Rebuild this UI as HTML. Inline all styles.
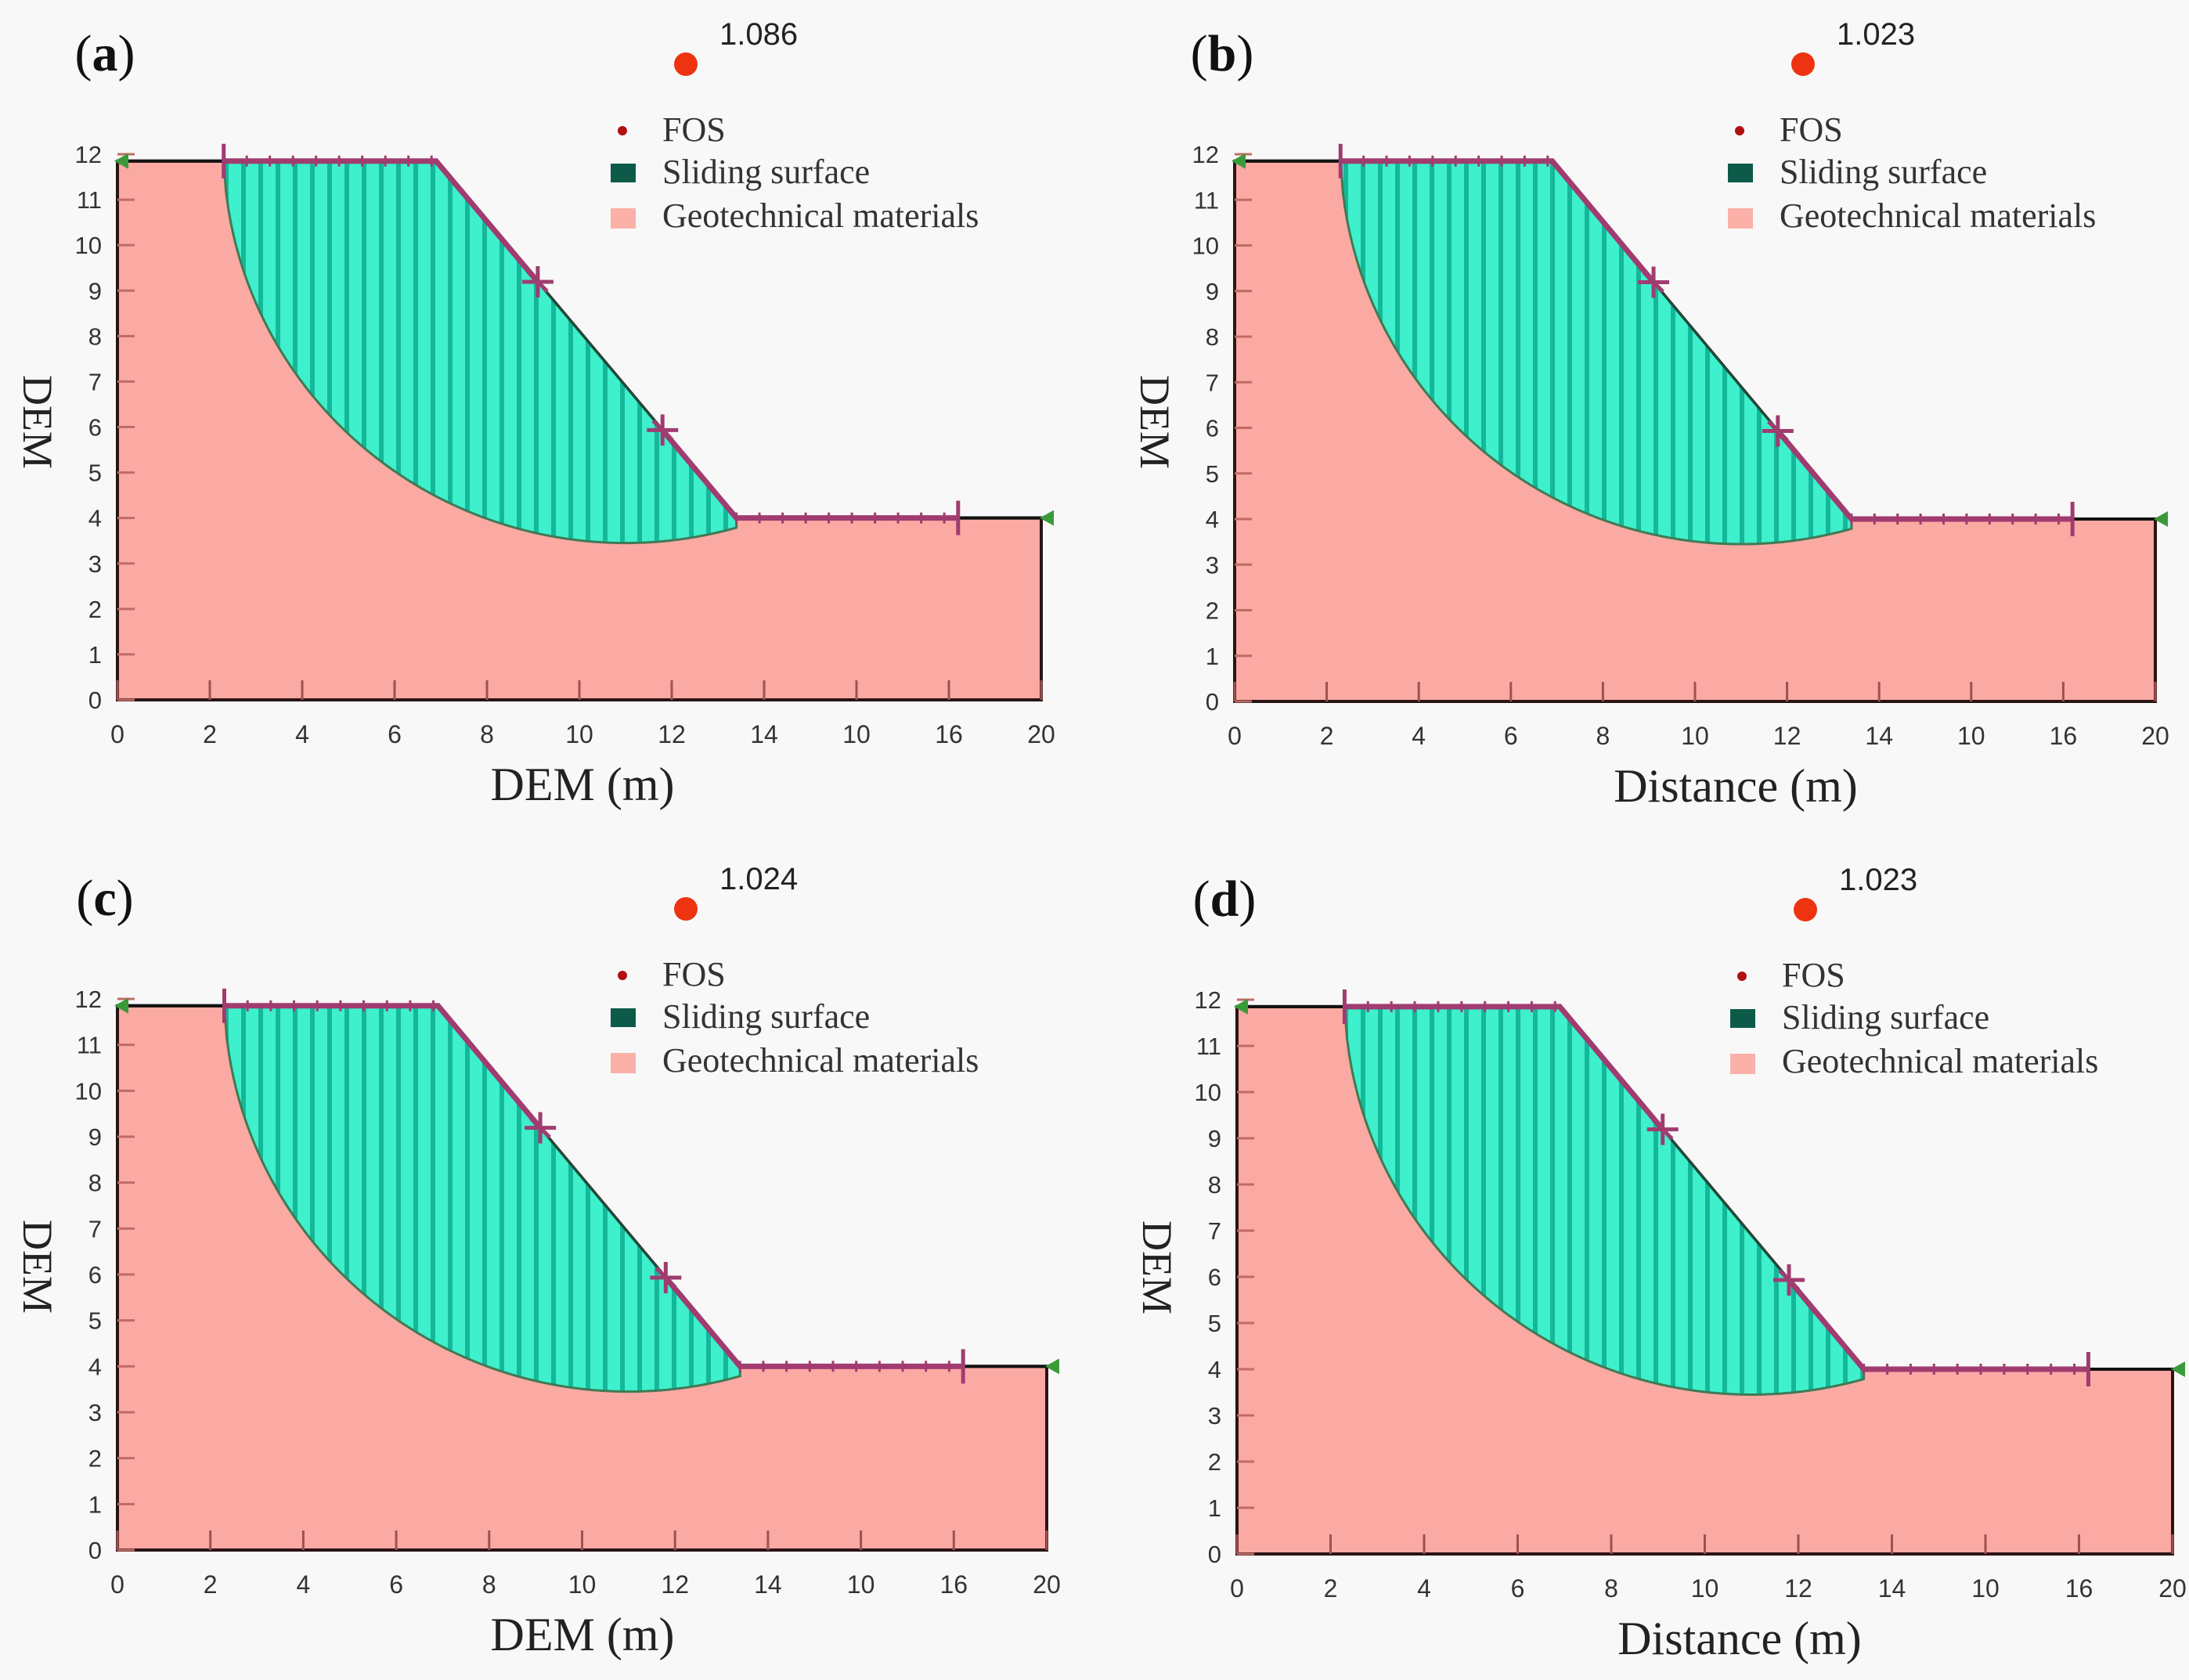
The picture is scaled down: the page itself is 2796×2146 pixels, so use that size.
<!DOCTYPE html>
<html><head><meta charset="utf-8"><style>
html,body{margin:0;padding:0;background:#f8f8f8;}
svg{display:block;}
</style></head><body>
<svg id="fig" width="2796" height="2146" viewBox="0 0 2796 2146" xmlns="http://www.w3.org/2000/svg">
<defs>
<pattern id="hatch" patternUnits="userSpaceOnUse" width="22" height="40">
<rect width="22" height="40" fill="#3ef0cc"/>
<rect x="0" width="6" height="40" fill="#14b898"/>
</pattern>
</defs>
</svg>
<script>
const xTicks=[0,2,4,6,8,10,12,14,16,18,20];
const xTickLabels=["0","2","4","6","8","10","12","14","10","16","20"];
const yTicks=[0,1,2,3,4,5,6,7,8,9,10,11,12];
const yTickLabels=["0","1","2","3","4","5","6","7","8","9","10","11","12"];
const groundX=[0,6.9,13.4,20];
const groundY=[11.85,11.85,4,4];
const slipStart=[2.3,11.85];
const slipLowest=[11,3.45];
const slipEndX=13.4;
const markerX=[2.3,18.2];
const starX=[9.1,11.8];
const panelLabels=["a","b","c","d"];
const fosValues=["1.086","1.023","1.024","1.023"];
const xTitles=["DEM (m)","Distance (m)","DEM (m)","Distance (m)"];
const panels=[
 {x0:150,x20:1330,y0:894,y12:197,xt:744},
 {x0:1577,x20:2753,y0:896,y12:197,xt:2217},
 {x0:150,x20:1337,y0:1980,y12:1276,xt:744},
 {x0:1580,x20:2775,y0:1985,y12:1277,xt:2222}
];
const NS="http://www.w3.org/2000/svg";
const svg=document.getElementById('fig');
function mk(tag,attrs,parent){const e=document.createElementNS(NS,tag);for(const k in attrs)e.setAttribute(k,attrs[k]);(parent||svg).appendChild(e);return e;}
function groundAt(x){for(let i=0;i<groundX.length-1;i++){if(x>=groundX[i]&&x<=groundX[i+1]){const t=(x-groundX[i])/(groundX[i+1]-groundX[i]);return groundY[i]+t*(groundY[i+1]-groundY[i]);}}return groundY[groundY.length-1];}
panels.forEach((p,pi)=>{
 const sx=x=>p.x0+(x/20)*(p.x20-p.x0);
 const sy=y=>p.y0-(y/12)*(p.y0-p.y12);
 const g=mk('g',{});
 
 
 let pts=[[0,0]];groundX.forEach((x,i)=>pts.push([x,groundY[i]]));pts.push([20,0]);
 const mat=mk('polygon',{points:pts.map(q=>sx(q[0])+','+sy(q[1])).join(' '),fill:'#fba9a3',stroke:'#2a1414','stroke-width':4},g);
 
 
 const cx=slipLowest[0];
 const R=((slipStart[0]-cx)**2+(slipStart[1]-slipLowest[1])**2)/(2*(slipStart[1]-slipLowest[1]));
 const cy=slipLowest[1]+R;
 const circY=x=>cy-Math.sqrt(Math.max(0,R*R-(x-cx)**2));
 const xe=slipEndX;
 let sp=[];
 for(let x=slipStart[0];x<=xe;x+=0.05)sp.push([x,Math.min(circY(x),groundAt(x))]);
 sp.push([xe,circY(xe)]);
 const top=[];for(let i=groundX.length-1;i>=0;i--){if(groundX[i]>slipStart[0]&&groundX[i]<=xe)top.push([groundX[i],groundY[i]]);}
 const slip=mk('polygon',{points:sp.concat(top).map(q=>sx(q[0])+','+sy(q[1])).join(' '),fill:'url(#hatch)',stroke:'#3f7a55','stroke-width':3},g);
 
 
 yTicks.forEach((v,i)=>{
  const t=mk('line',{x1:p.x0,x2:p.x0+22,y1:sy(v),y2:sy(v),stroke:'#c06a66','stroke-width':3},g);
  
  
  const l=mk('text',{x:p.x0-20,y:sy(v)+11,'text-anchor':'end','font-family':'Liberation Sans, sans-serif','font-size':31,fill:'#333'},g);
  l.textContent=yTickLabels[i];
  
  
 });
 xTicks.forEach((v,i)=>{
  const t=mk('line',{x1:sx(v),x2:sx(v),y1:p.y0,y2:p.y0-25,stroke:'#a05050','stroke-width':3},g);
  
  
  const l=mk('text',{x:sx(v),y:p.y0+55,'text-anchor':'middle','font-family':'Liberation Sans, sans-serif','font-size':32,fill:'#333'},g);
  l.textContent=xTickLabels[i];
  
  
 });
 mk('line',{x1:sx(0),y1:sy(groundY[0]),x2:sx(markerX[0]),y2:sy(groundY[0]),stroke:'#111','stroke-width':4},g);
 mk('line',{x1:sx(markerX[1]),y1:sy(4),x2:sx(20),y2:sy(4),stroke:'#111','stroke-width':4},g);
 const mp=[[markerX[0],groundY[0]],[groundX[1],groundY[1]],[starX[0],groundAt(starX[0])]];
 const m1=mk('polyline',{points:mp.map(q=>sx(q[0])+','+sy(q[1])).join(' '),fill:'none',stroke:'#a03c70','stroke-width':7},g);
 
 
 mk('line',{x1:sx(starX[0]),y1:sy(groundAt(starX[0])),x2:sx(starX[1]),y2:sy(groundAt(starX[1])),stroke:'#1f4a3a','stroke-width':3},g);
 const mp2=[[starX[1],groundAt(starX[1])],[groundX[2],groundY[2]],[markerX[1],4]];
 mk('polyline',{points:mp2.map(q=>sx(q[0])+','+sy(q[1])).join(' '),fill:'none',stroke:'#a03c70','stroke-width':7},g);
 for(let x=markerX[0];x<=groundX[1];x+=0.5)mk('line',{x1:sx(x),x2:sx(x),y1:sy(groundY[0])-7,y2:sy(groundY[0])+7,stroke:'#a03c70','stroke-width':3},g);
 for(let x=groundX[2];x<=markerX[1];x+=0.5)mk('line',{x1:sx(x),x2:sx(x),y1:sy(4)-7,y2:sy(4)+7,stroke:'#a03c70','stroke-width':3},g);
 markerX.forEach(x=>{const yy=sy(groundAt(x));mk('line',{x1:sx(x),x2:sx(x),y1:yy-22,y2:yy+22,stroke:'#a03c70','stroke-width':5},g);});
 starX.forEach(x=>{const X=sx(x),Y=sy(groundAt(x));
  const s=mk('path',{d:`M${X-20},${Y}L${X+20},${Y}M${X},${Y-20}L${X},${Y+20}M${X-12},${Y-12}L${X+12},${Y+12}`,stroke:'#a03c70','stroke-width':5},g);
  
  });
 mk('polygon',{points:`${sx(0)+14},${sy(groundY[0])-10} ${sx(0)+14},${sy(groundY[0])+10} ${sx(0)-4},${sy(groundY[0])}`,fill:'#3a9a3a'},g);
 mk('polygon',{points:`${sx(20)+16},${sy(4)-10} ${sx(20)+16},${sy(4)+10} ${sx(20)-2},${sy(4)}`,fill:'#3a9a3a'},g);
 const pl=mk('text',{x:p.x0-16,y:p.y12-107,'text-anchor':'middle','font-family':'Liberation Serif, serif','font-size':66,fill:'#111'},g);
 pl.innerHTML='(<tspan font-weight="bold">'+panelLabels[pi]+'</tspan>)';
 
 
 const dot=mk('circle',{cx:p.x0+726,cy:p.y12-115,r:15,fill:'#ee3311'},g);
 
 
 const fv=mk('text',{x:p.x0+769,y:p.y12-140,'font-family':'Liberation Sans, sans-serif','font-size':40,fill:'#222'},g);
 fv.textContent=fosValues[pi];
 
 
 const lg=mk('g',{},g);
 
 
 mk('circle',{cx:p.x0+645,cy:p.y12-30,r:6,fill:'#b01010'},lg);
 mk('rect',{x:p.x0+630,y:p.y12+12,width:32,height:24,fill:'#0d5a48'},lg);
 mk('rect',{x:p.x0+630,y:p.y12+69,width:32,height:26,fill:'#fbb0a8'},lg);
 [["FOS",-17],["Sliding surface",37],["Geotechnical materials",93]].forEach(e=>{
  const t=mk('text',{x:p.x0+696,y:p.y12+e[1],'font-family':'Liberation Serif, serif','font-size':44,fill:'#333'},lg);
  t.textContent=e[0];
  
  
 });
 const yt=mk('text',{x:0,y:0,transform:`translate(${p.x0-120},${p.y12+342}) rotate(90)`,'text-anchor':'middle','font-family':'Liberation Serif, serif','font-size':54,fill:'#222'},g);
 yt.textContent='DEM';
 
 
 const xt=mk('text',{x:p.xt,y:p.y0+128,'text-anchor':'middle','font-family':'Liberation Serif, serif','font-size':60,fill:'#222'},g);
 xt.textContent=xTitles[pi];
 
 
});
</script>
</body></html>
